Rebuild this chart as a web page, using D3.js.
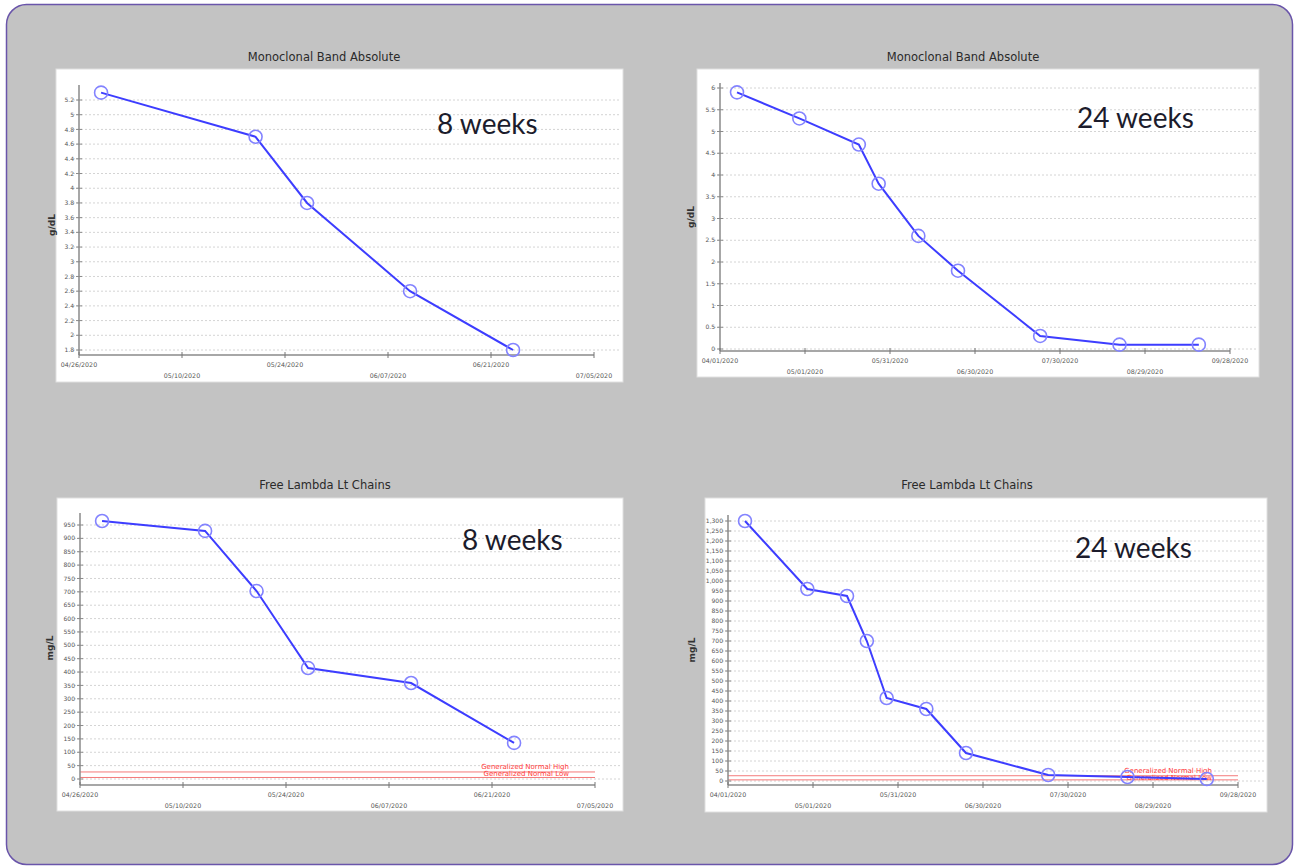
<!DOCTYPE html>
<html><head><meta charset="utf-8">
<script src="https://cdn.jsdelivr.net/npm/d3@7"></script>
<style>body{margin:0;background:#fff}svg{display:block}</style>
</head><body>
<script>
// ---------- DATA ----------
const mbTitle = "Monoclonal Band Absolute";
const flTitle = "Free Lambda Lt Chains";

const tlDates = ["2020-04-29","2020-05-20","2020-05-27","2020-06-10","2020-06-24"];
const tlValues = [5.3, 4.7, 3.8, 2.6, 1.8];
const tlYTicks = [1.8,2,2.2,2.4,2.6,2.8,3,3.2,3.4,3.6,3.8,4,4.2,4.4,4.6,4.8,5,5.2];
const shortXTicks = ["04/26/2020","05/10/2020","05/24/2020","06/07/2020","06/21/2020","07/05/2020"];

const trDates = ["2020-04-07","2020-04-29","2020-05-20","2020-05-27","2020-06-10","2020-06-24","2020-07-23","2020-08-20","2020-09-17"];
const trValues = [5.9, 5.3, 4.7, 3.8, 2.6, 1.8, 0.3, 0.1, 0.1];
const trYTicks = [0,0.5,1,1.5,2,2.5,3,3.5,4,4.5,5,5.5,6];
const longXTicks = ["04/01/2020","05/01/2020","05/31/2020","06/30/2020","07/30/2020","08/29/2020","09/28/2020"];

const blDates = ["2020-04-29","2020-05-13","2020-05-20","2020-05-27","2020-06-10","2020-06-24"];
const blValues = [965, 928, 703, 415, 359, 135];
const blYTicks = [0,50,100,150,200,250,300,350,400,450,500,550,600,650,700,750,800,850,900,950];

const brDates = ["2020-04-07","2020-04-29","2020-05-13","2020-05-20","2020-05-27","2020-06-10","2020-06-24","2020-07-23","2020-08-20","2020-09-17"];
const brValues = [1300, 960, 925, 700, 415, 360, 140, 30, 20, 10];
const brYTicks = [0,50,100,150,200,250,300,350,400,450,500,550,600,650,700,750,800,850,900,950,1000,1050,1100,1150,1200,1250,1300];

const normalLow = 5.7, normalHigh = 26.3;
const normalLabels = ["Generalized Normal High","Generalized Normal Low"];

// ---------- DRAW ----------
const W = 1294, H = 868;
const svg = d3.select("body").append("svg").attr("width", W).attr("height", H);
svg.append("rect").attr("x",6.5).attr("y",4.5).attr("width",1286).attr("height",860)
  .attr("rx",20).attr("fill","#c3c3c3").attr("stroke","#6a55aa").attr("stroke-width",1.5);

const parse = d3.timeParse("%Y-%m-%d");
const parseTick = d3.timeParse("%m/%d/%Y");

function panel(o) {
  const g = svg.append("g");
  g.append("rect").attr("x",o.px).attr("y",o.py).attr("width",o.pw).attr("height",o.ph)
    .attr("fill","#fff").attr("stroke","#e0e0e0");
  g.append("text").attr("x",o.titleX).attr("y",o.titleY).attr("text-anchor","middle")
    .attr("font-family","DejaVu Sans").attr("font-size",11.5).attr("fill","#2a2a2a").text(o.title);

  const xt = o.xTicks.map(parseTick);
  const x = d3.scaleTime().domain([xt[0], xt[xt.length-1]]).range([o.x0, o.x1]);
  const yt = o.yTicks;
  const y = d3.scaleLinear().domain([yt[0], yt[yt.length-1]]).range([o.yBot, o.yTop]);

  // grid
  g.append("g").selectAll("line").data(yt).join("line")
    .attr("x1",o.x0-6).attr("x2",o.px+o.pw-2)
    .attr("y1",d=>y(d)).attr("y2",d=>y(d))
    .attr("stroke","#d4d4d4").attr("stroke-width",1).attr("stroke-dasharray","2,2");

  // normal range
  if (o.normal) {
    const ng = g.append("g");
    [normalHigh, normalLow].forEach(v=>{
      ng.append("line").attr("x1",o.x0).attr("x2",o.x1).attr("y1",y(v)).attr("y2",y(v))
        .attr("stroke","#f47a7a").attr("stroke-width",1);
    });
    ng.append("text").attr("x",o.x1-26).attr("y",y(normalHigh)-3).attr("text-anchor","end")
      .attr("font-family","DejaVu Sans").attr("font-size",7).attr("fill","#ff3a3a").text(normalLabels[0]);
    ng.append("text").attr("x",o.x1-26).attr("y",y(normalHigh)+4.5).attr("text-anchor","end")
      .attr("font-family","DejaVu Sans").attr("font-size",7).attr("fill","#ff3a3a").text(normalLabels[1]);
  }

  // y axis
  const ya = g.append("g");
  ya.append("line").attr("x1",o.x0).attr("x2",o.x0).attr("y1",o.axTop).attr("y2",o.axY)
    .attr("stroke","#8a8a8a").attr("stroke-width",1.5);
  ya.selectAll("line.t").data(yt).join("line").attr("class","t")
    .attr("x1",o.x0-3).attr("x2",o.x0+3).attr("y1",d=>y(d)).attr("y2",d=>y(d))
    .attr("stroke","#8a8a8a");
  ya.selectAll("text").data(yt).join("text")
    .attr("x",o.x0-5).attr("y",d=>y(d)).attr("dy","0.35em").attr("text-anchor","end")
    .attr("font-family","DejaVu Sans").attr("font-size",6).attr("fill","#555")
    .text(d=>o.fmt(d));

  // x axis
  const xa = g.append("g");
  xa.append("line").attr("x1",o.x0).attr("x2",o.x1).attr("y1",o.axY).attr("y2",o.axY)
    .attr("stroke","#8a8a8a").attr("stroke-width",1.5);
  xa.selectAll("line.t").data(xt).join("line").attr("class","t")
    .attr("x1",d=>x(d)).attr("x2",d=>x(d)).attr("y1",o.axY-3).attr("y2",o.axY+3)
    .attr("stroke","#777");
  xa.selectAll("text").data(o.xTicks).join("text")
    .attr("x",(d,i)=>x(xt[i])).attr("y",(d,i)=>o.axY + (i%2===0 ? 12 : 23))
    .attr("text-anchor","middle")
    .attr("font-family","DejaVu Sans").attr("font-size",6.3).attr("fill","#555").text(d=>d);

  // y label
  g.append("text").attr("transform",`translate(${o.ylabX},${o.ylabY}) rotate(-90)`)
    .attr("text-anchor","middle").attr("font-family","DejaVu Sans").attr("font-weight","bold")
    .attr("font-size",9).attr("fill","#333").text(o.ylab);

  // series
  const pts = o.dates.map((d,i)=>({d:parse(d), v:o.values[i]}));
  g.append("path").datum(pts)
    .attr("d", d3.line().x(p=>x(p.d)).y(p=>y(p.v)))
    .attr("fill","none").attr("stroke","#3d3dff").attr("stroke-width",2);
  g.append("g").selectAll("circle").data(pts).join("circle")
    .attr("cx",p=>x(p.d)).attr("cy",p=>y(p.v)).attr("r",6.5)
    .attr("fill","none").attr("stroke","#8383ff").attr("stroke-width",1.6);

  // annotation
  g.append("text").attr("x",o.noteX).attr("y",o.noteY)
    .attr("font-family","Lato, 'Open Sans', sans-serif").attr("font-size",28).attr("fill","#1c1c2c")
    .text(o.note);
}

const fmtPlain = d => String(+d.toFixed(2));
const fmtComma = d3.format(",");

panel({title:mbTitle, titleX:324, titleY:61, px:56, py:69, pw:567, ph:313,
  x0:79, x1:594, yTop:100, yBot:350, axY:355, axTop:85,
  xTicks:shortXTicks, yTicks:tlYTicks, fmt:fmtPlain, dates:tlDates, values:tlValues,
  ylab:"g/dL", ylabX:55, ylabY:225, note:"8 weeks", noteX:437, noteY:134});

panel({title:mbTitle, titleX:963, titleY:61, px:697, py:69, pw:562, ph:308,
  x0:720, x1:1230, yTop:88, yBot:349, axY:351, axTop:83,
  xTicks:longXTicks, yTicks:trYTicks, fmt:fmtPlain, dates:trDates, values:trValues,
  ylab:"g/dL", ylabX:694, ylabY:217, note:"24 weeks", noteX:1077, noteY:128});

panel({title:flTitle, titleX:325, titleY:489, px:57, py:498, pw:566, ph:313,
  x0:80, x1:595, yTop:525, yBot:779, axY:785, axTop:513, normal:true,
  xTicks:shortXTicks, yTicks:blYTicks, fmt:fmtComma, dates:blDates, values:blValues,
  ylab:"mg/L", ylabX:53, ylabY:648, note:"8 weeks", noteX:462, noteY:550});

panel({title:flTitle, titleX:967, titleY:489, px:705, py:498, pw:562, ph:314,
  x0:728, x1:1238, yTop:521, yBot:781, axY:785, axTop:515, normal:true,
  xTicks:longXTicks, yTicks:brYTicks, fmt:fmtComma, dates:brDates, values:brValues,
  ylab:"mg/L", ylabX:695, ylabY:650, note:"24 weeks", noteX:1075, noteY:558});
</script>
</body></html>
